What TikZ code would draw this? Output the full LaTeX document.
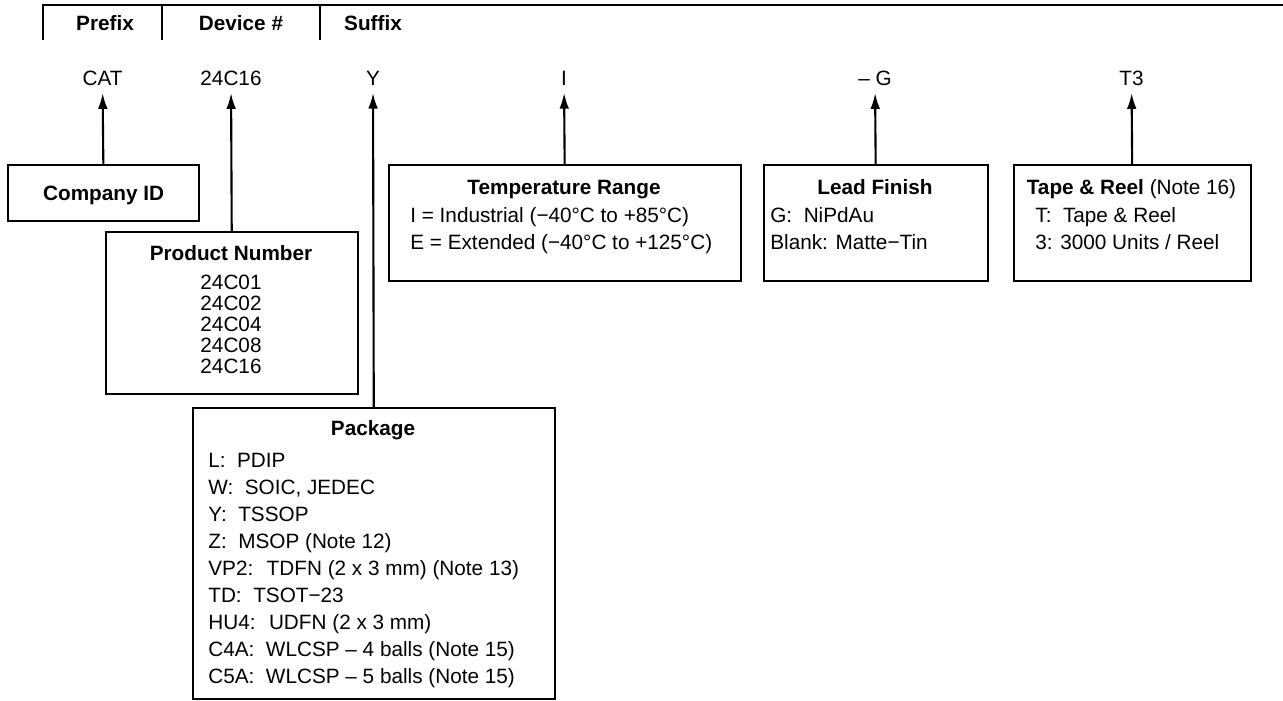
\documentclass[tikz,border=0pt]{standalone}
\usepackage{fontspec}
\setmainfont{Liberation Sans}
\usetikzlibrary{arrows.meta, positioning}

\begin{document}
\begin{tikzpicture}[x=0.02cm, y=-0.02cm, font=\fontsize{11.8}{14}\selectfont]
\tikzstyle{fieldbox} = [rectangle, draw=black, line width=1.3pt, anchor=north west, inner sep=0pt]
\tikzstyle{heading} = [inner sep=0pt, anchor=base, font=\fontsize{11.8}{14}\selectfont\bfseries]
\tikzstyle{entry} = [inner sep=0pt, align=left, anchor=north west, font=\fontsize{11.8}{15.4}\selectfont]
\tikzstyle{code} = [inner xsep=0pt, inner ysep=4.2pt]
\tikzstyle{arrow} = [line width=1.2pt, -{Latex[length=9pt, width=5.5pt]}]

\useasboundingbox (0,0) rectangle (1283,700);

% Header
\draw[line width=1.3pt] (43,40) -- (43,5) -- (1283,5);
\draw[line width=1.3pt] (162,5) -- (162,40);
\draw[line width=1.3pt] (320,5) -- (320,40);
\node (prefix) [heading] at (105,30.5) {Prefix};
\node (device) [heading] at (241,30.5) {Device \#};
\node (suffix) [heading] at (373,30.5) {Suffix};

% Part number fields
\node (cat) [code] at (102.5,78) {CAT};
\node (dev) [code] at (231,78) {24C16};
\node (pkg) [code] at (373,78) {Y};
\node (tmp) [code] at (564,78) {I};
\node (lead) [code] at (875,78) {– G};
\node (reel) [code] at (1131.5,78) {T3};

% Boxes
\node (compid) [fieldbox, minimum width=3.82cm, minimum height=1.12cm, text depth=0pt] at (7,164) {\bfseries Company ID};
\node (product) [fieldbox, minimum width=5.04cm, minimum height=3.24cm] at (105,231) {};
\node (package) [fieldbox, minimum width=7.24cm, minimum height=5.82cm] at (192,407) {};
\node (temp) [fieldbox, minimum width=7.04cm, minimum height=2.32cm] at (388,164) {};
\node (finish) [fieldbox, minimum width=4.48cm, minimum height=2.32cm] at (763,164) {};
\node (tape) [fieldbox, minimum width=4.74cm, minimum height=2.32cm] at (1013,164) {};

% Box texts
\node (product_t) [heading] at (231,260.5) {Product Number};
\node (product_e) [entry, align=center, anchor=north, font=\fontsize{11.8}{12}\selectfont] at (231,274.5)
  {24C01\\24C02\\24C04\\24C08\\24C16};
\node (package_t) [heading] at (373,435.5) {Package};
\node (package_e) [entry] at (208,452.5)
  {L:~ PDIP\\W:~ SOIC, JEDEC\\Y:~ TSSOP\\Z:~ MSOP (Note 12)\\VP2:~ TDFN (2 x 3 mm) (Note 13)\\
   TD:~ TSOT−23\\HU4:~ UDFN (2 x 3 mm)\\C4A:~ WLCSP – 4 balls (Note 15)\\C5A:~ WLCSP – 5 balls (Note 15)};
\node (temp_t) [heading] at (564,194.5) {Temperature Range};
\node (temp_e) [entry] at (410,207.5)
  {I = Industrial (−40°C to +85°C)\\E = Extended (−40°C to +125°C)};
\node (finish_t) [heading] at (875,194.5) {Lead Finish};
\node (finish_e) [entry] at (770,207.5) {G:~ NiPdAu\\Blank: Matte−Tin};
\node (tape_t) [heading] at (1131.5,194.5) {Tape \& Reel {\mdseries (Note 16)}};
\node (tape_e) [entry] at (1035,207.5) {T:~ Tape \& Reel\\3: 3000 Units / Reel};

% Arrows
\draw [arrow] (compid) -- (cat);
\draw [arrow] (product) -- (dev);
\draw [arrow] (package) -- (pkg);
\draw [arrow] (temp) -- (tmp);
\draw [arrow] (finish) -- (lead);
\draw [arrow] (tape) -- (reel);
\end{tikzpicture}
\end{document}
